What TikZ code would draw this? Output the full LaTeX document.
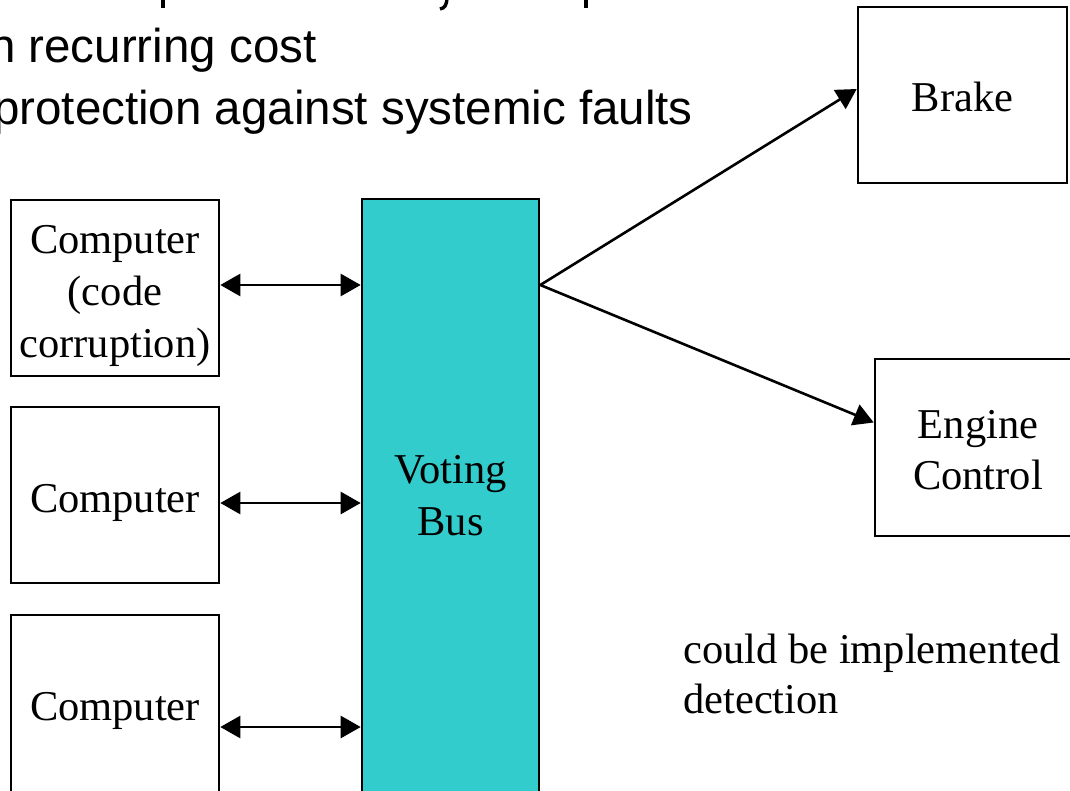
\documentclass[tikz,border=0pt]{standalone}
\usepackage{fontspec}
\setmainfont{Liberation Serif}
\newfontfamily\slidesans{Liberation Sans}
\usetikzlibrary{arrows.meta}
\definecolor{busfill}{HTML}{33CCCC}
\begin{document}
\begin{tikzpicture}[x=1pt,y=-1pt,
  unitbox/.style={draw=black, line width=2.6pt, rectangle, inner sep=0pt},
  boxtext/.style={inner sep=0pt, align=center, font=\fontsize{42.5}{52}\selectfont},
  biarrow/.style={line width=2.6pt, {Triangle[length=20pt,width=22pt]}-{Triangle[length=20pt,width=22pt]}},
  onearrow/.style={line width=2.6pt, -{Triangle[length=20pt,width=22pt]}},
  bullettext/.style={anchor=base west, inner sep=0pt, font=\slidesans\fontsize{47.5}{62}\selectfont},
  notetext/.style={anchor=base west, inner sep=0pt, align=left, font=\fontsize{42.5}{50}\selectfont}]
\useasboundingbox (0,0) rectangle (1070,791);

% bullet lines of the slide above the diagram
\node[bullettext] (costline) at (-11,63) {n recurring cost};
\node[bullettext] (faultline) at (-7,125) {protection against systemic faults};
% descenders of the line above
\fill (161,0) rectangle (165,8);
\draw[line width=3.4pt] (447,-2) .. controls (446.5,6) and (444.5,8) .. (440,9);
\fill (584,0) rectangle (588,8);

% redundant computers
\node[unitbox, minimum width=208pt, minimum height=176pt] (c1) at (115,288) {};
\node[unitbox, minimum width=208pt, minimum height=176pt] (c2) at (115,495) {};
\node[unitbox, minimum width=208pt, minimum height=178pt] (c3) at (115,704) {};
\node[boxtext] (c1text) at ([yshift=-8pt]c1.center) {Computer\\(code\\corruption)};
\node[boxtext] (c2text) at ([yshift=-8pt]c2.center) {Computer};
\node[boxtext] (c3text) at ([yshift=-7pt]c3.center) {Computer};

% voting bus
\node[unitbox, fill=busfill, minimum width=177pt, minimum height=596pt] (bus) at (450.5,497) {};
\node[boxtext] (bustext) at ([yshift=1pt]bus.center) {Voting\\Bus};

% actuators
\node[unitbox, minimum width=209pt, minimum height=176pt] (brake) at (962.5,95) {};
\node[boxtext] (braketext) at ([yshift=-2pt]brake.center) {Brake};
\node[unitbox, minimum width=206pt, minimum height=177pt] (engine) at (978,447.5) {};
\node[boxtext, font=\fontsize{42.5}{51}\selectfont] (enginetext) at ([yshift=-3pt]engine.center) {Engine\\Control};

% link levels on the computer side
\coordinate (l1) at ([yshift=3pt]c1.east);
\coordinate (l2) at ([yshift=-8pt]c2.east);
\coordinate (l3) at ([yshift=-23pt]c3.east);

% links between computers and bus
\draw[biarrow] (l1) -- (bus.west |- l1);
\draw[biarrow] (l2) -- (bus.west |- l2);
\draw[biarrow] (l3) -- (bus.west |- l3);

% bus outputs
\coordinate (busout) at (bus.east |- l1);
\coordinate (brakein) at ([yshift=6pt]brake.west);
\coordinate (enginein) at ([yshift=25pt]engine.west);
\draw[onearrow] (busout) -- (brakein);
\draw[onearrow] (busout) -- (enginein);

% side note
\node[notetext] (note) at (683,713) {could be implemented\\detection};
\end{tikzpicture}
\end{document}
